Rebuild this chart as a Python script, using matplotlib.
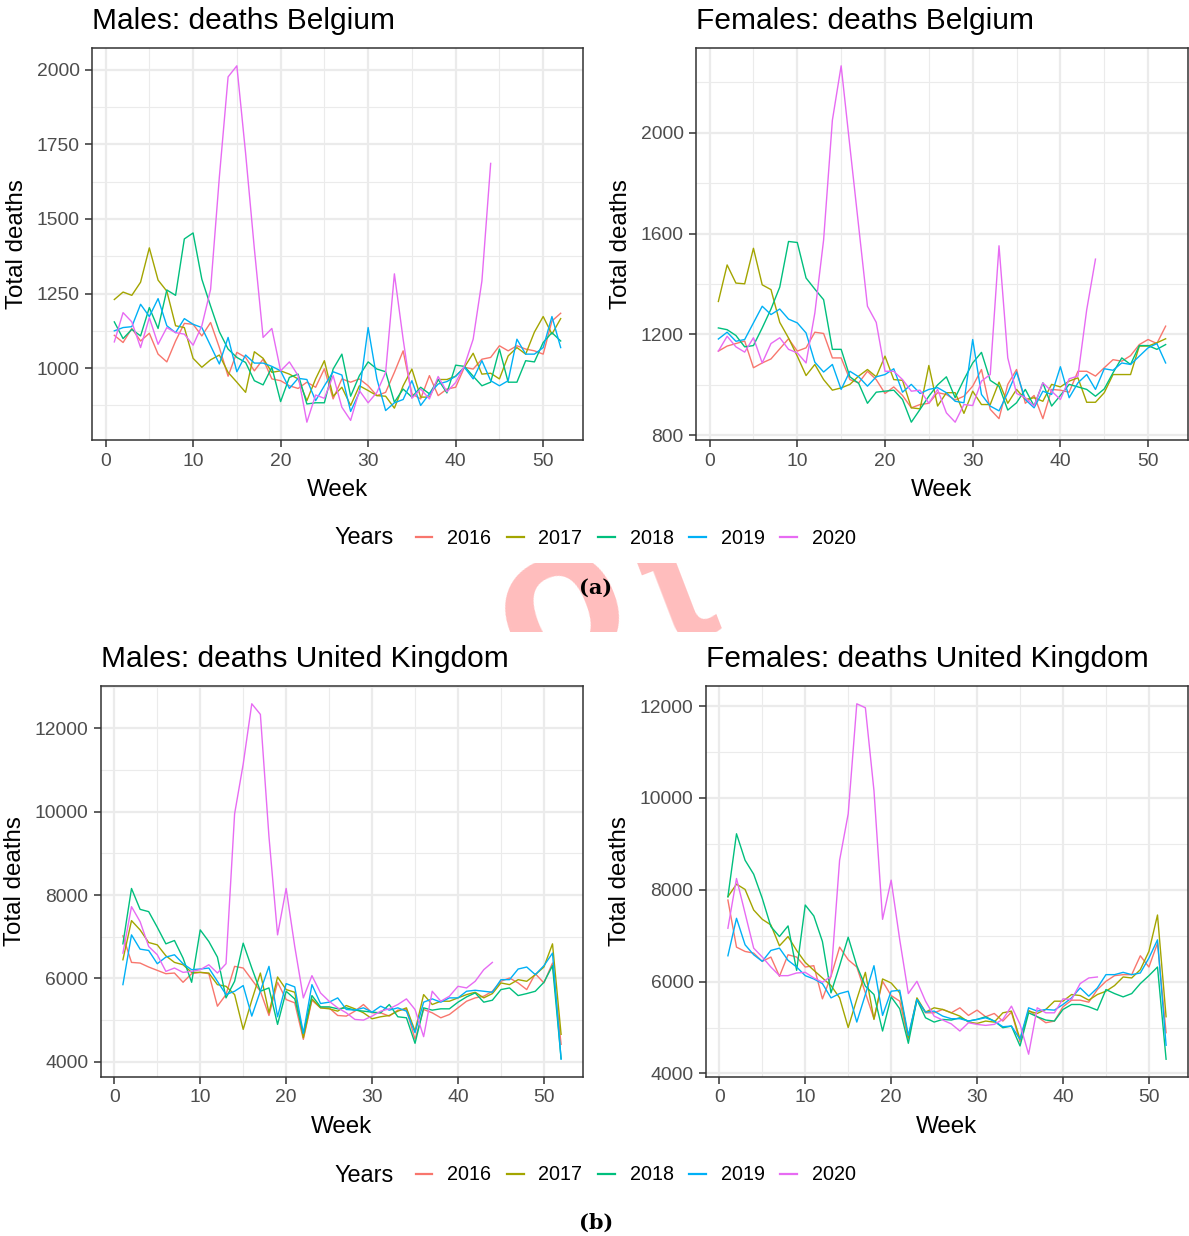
import numpy as np
import matplotlib
matplotlib.use("Agg")
import matplotlib.pyplot as plt
from matplotlib.ticker import MultipleLocator
from matplotlib.lines import Line2D
from matplotlib.transforms import Bbox

plt.rcParams['font.family'] = ['Liberation Sans', 'DejaVu Sans']

# ---- data ----
weeks = np.arange(1, 53)
years = ["2016", "2017", "2018", "2019", "2020"]
colors = ["#F8766D", "#A3A500", "#00BF7D", "#00B0F6", "#E76BF3"]

# Males, Belgium
bel_m_2016 = [1110,1086,1133,1091,1117,1047,1021,1091,1150,1147,1108,1153,1069,973,1053,1036,991,1030,964,958,
              941,932,953,936,998,897,964,953,964,941,908,919,986,1058,914,897,975,908,930,936,
              1003,997,1030,1036,1075,1058,1075,1064,1058,1047,1158,1184]
bel_m_2017 = [1230,1255,1244,1288,1403,1295,1258,1142,1136,1033,1003,1028,1044,986,953,919,1055,1033,986,991,
              980,964,891,964,1025,906,936,875,941,925,908,906,866,941,997,903,903,962,962,973,
              1003,1050,980,983,964,1041,1069,1047,1121,1173,1114,1166]
bel_m_2018 = [1155,1099,1130,1108,1203,1133,1262,1244,1433,1453,1298,1208,1122,1064,1036,1019,958,944,1003,888,
              969,980,880,884,884,997,1047,906,975,1021,997,988,886,930,903,936,914,962,917,1010,
              1006,973,941,953,1064,953,953,1025,1021,1086,1119,1091]
bel_m_2019 = [1125,1136,1139,1214,1173,1233,1142,1119,1166,1147,1136,1075,1014,1103,988,1044,1017,1017,1006,991,
              932,966,962,891,941,988,977,855,919,1136,964,858,884,895,958,875,914,947,955,973,
              1003,964,1025,958,941,958,1097,1047,1047,1069,1173,1069]
bel_m_2020 = [1088,1186,1155,1069,1169,1080,1136,1119,1114,1077,1142,1264,1640,1976,2013,1720,1400,1103,1133,991,
              1021,975,819,910,899,975,869,825,925,884,919,986,1316,1097,899,930,897,972,921,952,
              1008,1097,1292,1686]

# Females, Belgium
bel_f_2016 = [1134,1154,1164,1174,1068,1087,1103,1143,1183,1134,1147,1209,1204,1107,1107,1021,1008,1054,1021,966,
              992,958,909,922,927,969,962,940,955,995,1061,903,866,1002,1061,927,958,866,982,979,
              971,1054,1054,1035,1068,1100,1094,1116,1160,1180,1164,1233]
bel_f_2017 = [1331,1476,1404,1401,1542,1397,1378,1248,1186,1114,1037,1081,1021,979,988,1002,1035,1061,1032,1114,
              1021,1018,909,905,1077,916,969,969,887,975,922,922,1011,927,982,942,949,935,1002,992,
              1015,1028,931,931,969,1041,1041,1041,1154,1154,1167,1183]
bel_f_2018 = [1226,1219,1196,1151,1156,1226,1301,1388,1569,1565,1424,1380,1338,1141,1141,1032,1006,927,971,975,
              979,942,852,903,955,1000,1032,949,1021,1087,1129,1018,995,900,929,982,916,1008,916,958,
              1002,992,982,955,984,1048,1107,1081,1156,1156,1141,1160]
bel_f_2019 = [1182,1209,1173,1180,1246,1312,1279,1301,1261,1246,1206,1090,1051,1081,982,1054,1032,995,1032,1041,
              1064,971,1002,966,982,989,969,935,929,1180,962,916,897,969,1051,942,909,975,962,1072,
              949,1008,1041,982,1064,1058,1087,1081,1114,1147,1164,1087]
bel_f_2020 = [1134,1193,1151,1130,1187,1087,1164,1187,1141,1127,1087,1285,1575,2050,2266,1945,1628,1312,1248,1054,
              1054,1021,975,979,927,982,889,852,922,918,1015,1041,1552,1107,966,949,916,1008,975,942,
              1024,1035,1298,1499]

# Males, United Kingdom
uk_m_2016 = [7022,6386,6370,6275,6195,6115,6131,5909,6115,6147,6115,5336,5614,6291,6251,5972,5694,5113,5909,5495,
             5416,4541,5479,5296,5296,5113,5098,5217,5376,5177,5177,5098,5241,5257,4541,5257,5177,5058,5137,5296,
             5455,5535,5575,5694,5933,6012,5893,5734,6115,5893,6370,4422]
uk_m_2017 = [6449,7388,7165,6863,6807,6545,6386,6330,6147,6147,6131,5853,5813,5614,4780,5479,6131,5177,6036,5734,
             5670,4581,5511,5296,5273,5217,5352,5273,5177,5034,5082,5113,5217,5296,4740,5614,5376,5455,5455,5535,
             5614,5670,5535,5638,5893,5853,5972,5933,6092,6275,6831,4661]
uk_m_2018 = [6831,8159,7658,7603,7229,6831,6911,6489,5909,7165,6887,6513,5535,5933,6847,6251,5694,5774,4899,5694,
             5511,4684,5590,5320,5320,5273,5296,5241,5217,5193,5177,5376,5082,5058,4446,5296,5241,5273,5273,5432,
             5559,5654,5432,5479,5734,5774,5590,5638,5694,5909,6307,4080]
uk_m_2019 = [5853,7046,6704,6672,6354,6513,6569,6354,6211,6227,6251,5933,5614,5694,5830,5098,5700,6291,5082,5877,
             5798,4684,5853,5400,5432,5535,5257,5241,5296,5193,5336,5241,5296,5217,4700,5432,5511,5432,5535,5535,
             5694,5718,5694,5670,5972,5972,6227,6275,6092,6307,6608,4064]
uk_m_2020 = [6608,7722,7364,6767,6569,6171,6251,6147,6171,6211,6330,6131,6354,9948,11141,12588,12334,9400,7046,8159,
             6767,5535,6068,5654,5455,5296,5177,5018,5002,5098,5217,5273,5376,5511,5257,4605,5694,5455,5575,5813,
             5774,5933,6211,6386]

# Females, United Kingdom
uk_f_2016 = [7776,6751,6657,6621,6441,6535,6116,6585,6535,6318,6347,5625,6116,6751,6477,6318,5755,5192,6007,5697,
             5574,4744,5610,5321,5321,5394,5321,5430,5264,5379,5235,5307,5141,5336,4686,5379,5235,5105,5141,5452,
             5596,5596,5553,5827,6007,6130,6152,6152,6563,6318,6838,4888]
uk_f_2017 = [7849,8123,8007,7560,7357,7235,6780,6982,6679,6419,6246,6080,5914,5646,5000,5614,6202,5177,6058,5971,
             5755,4780,5646,5336,5430,5394,5321,5249,5119,5090,5141,5119,5321,5358,4744,5358,5307,5394,5574,5574,
             5719,5697,5596,5719,5791,5914,6101,6080,6260,6657,7451,5235]
uk_f_2018 = [7849,9220,8643,8339,7813,7199,6982,7213,6246,7668,7430,6874,5755,6347,6968,6347,5900,5719,4924,5668,
             5408,4657,5610,5213,5119,5177,5163,5213,5141,5177,5235,5141,4996,5032,4600,5321,5235,5163,5141,5394,
             5502,5502,5452,5379,5827,5740,5668,5740,5957,6130,6318,4310]
uk_f_2019 = [6563,7379,6802,6585,6441,6679,6729,6463,6318,6130,6058,5957,5646,5740,5791,5119,5720,6347,5264,5791,
             5812,4830,5610,5336,5358,5249,5192,5192,5141,5177,5213,5141,5018,5032,4744,5430,5358,5394,5379,5502,
             5646,5863,5683,5863,6152,6152,6202,6152,6188,6513,6910,4614]
uk_f_2020 = [7163,8246,7488,6729,6535,6318,6130,6130,6188,6202,6080,5986,6116,8643,9654,12051,11964,10159,7357,8210,
             6910,5740,6007,5574,5249,5163,5080,4924,5105,5069,5047,5069,5177,5466,5069,4419,5430,5321,5321,5625,
             5610,5957,6080,6101]

panels = [
    ("Males: deaths Belgium", [bel_m_2016, bel_m_2017, bel_m_2018, bel_m_2019, bel_m_2020], 250),
    ("Females: deaths Belgium", [bel_f_2016, bel_f_2017, bel_f_2018, bel_f_2019, bel_f_2020], 400),
    ("Males: deaths United Kingdom", [uk_m_2016, uk_m_2017, uk_m_2018, uk_m_2019, uk_m_2020], 2000),
    ("Females: deaths United Kingdom", [uk_f_2016, uk_f_2017, uk_f_2018, uk_f_2019, uk_f_2020], 2000),
]

# ---- layout (pixel boxes: left, top, right, bottom) ----
W, H = 1189, 1236
boxes = [(92, 48, 583, 440), (696, 48, 1188, 440), (101, 686, 583, 1077), (706, 686, 1188, 1077)]

def rect(l, t, r, b):
    return [l / W, 1 - b / H, (r - l) / W, (b - t) / H]

fig = plt.figure(figsize=(W / 100, H / 100), dpi=100)
fig.patch.set_facecolor("white")

for (title, series, step), box in zip(panels, boxes):
    ax = fig.add_axes(rect(*box))
    for vals, c in zip(series, colors):
        ax.plot(weeks[:len(vals)], vals, color=c, lw=1.0)
    ax.xaxis.set_major_locator(MultipleLocator(10))
    ax.xaxis.set_minor_locator(MultipleLocator(5))
    ax.yaxis.set_major_locator(MultipleLocator(step))
    ax.yaxis.set_minor_locator(MultipleLocator(step / 2))
    ax.set_axisbelow(True)
    ax.grid(which="major", color="#EBEBEB", lw=1.6)
    ax.grid(which="minor", color="#EBEBEB", lw=0.8)
    ax.tick_params(which="major", length=5, width=1.1, color="#333333",
                   labelsize=13.9, labelcolor="#4D4D4D", pad=4)
    ax.tick_params(which="minor", length=0)
    for s in ax.spines.values():
        s.set_color("#333333")
        s.set_linewidth(1.1)
    ax.set_title(title, loc="left", fontsize=21.5, pad=14)
    ax.set_xlabel("Week", fontsize=17.4, labelpad=6.5)
    ax.set_ylabel("Total deaths", fontsize=17.4, labelpad=6)

# ---- legends ----
handles = [Line2D([], [], color=c, lw=1.6) for c in colors]
for yc in (538, 1175):
    fig.text(334 / W, 1 - yc / H, "Years", fontsize=16.8, ha="left", va="center")
    fig.legend(handles, years, ncol=5, loc="center left",
               bbox_to_anchor=(416 / W, 1 - yc / H), frameon=False, fontsize=14.2,
               handlelength=0.83, handletextpad=0.76, columnspacing=0.8,
               borderpad=0, borderaxespad=0)

# captions
fig.text(596 / W, 1 - 588 / H, "(a)", fontsize=15, fontweight="bold",
         family="DejaVu Serif", ha="center", va="center", zorder=5)
fig.text(596 / W, 1 - 1223 / H, "(b)", fontsize=15, fontweight="bold",
         family="DejaVu Serif", ha="center", va="center", zorder=5)

# watermark letters, only visible in the gap between the two sub-figures
strip = Bbox.from_extents(0, H - 632, W, H - 563)
for ch, (px, py), fs in [("o", (522, 684), 150), ("t", (668, 649), 130)]:
    wm = fig.text(px / W, 1 - py / H, ch, fontsize=fs, fontweight="bold",
                  color="#FFBDBD", rotation=21, rotation_mode="anchor",
                  ha="left", va="baseline", zorder=0.5)
    wm.set_clip_box(strip)
    wm.set_clip_on(True)

fig.savefig("out.png", dpi=100, facecolor="white")
